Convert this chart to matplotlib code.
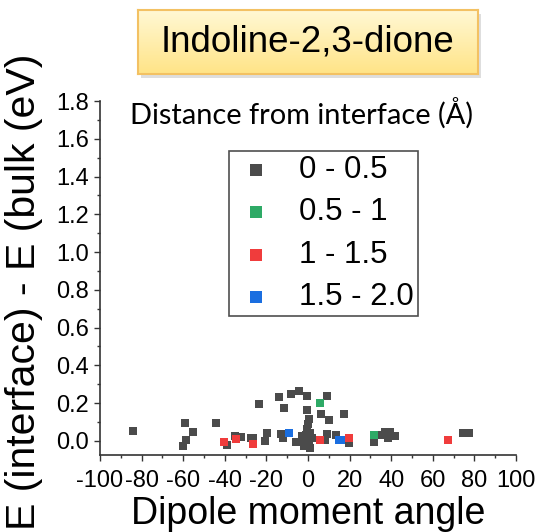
import numpy as np
import matplotlib.pyplot as plt
from matplotlib.patches import Rectangle
from matplotlib.colors import LinearSegmentedColormap

# 데이터
angle_0_05 = [-84, -59.2, -55.1, -58.8, -60.3, -44.2, -39.1, -35.3, -32.4, -27.6, -26.3,
              -23.6, -20.9, -19.9, -14, -13.2, -11.9, -11.6, -8.4, -4.4, -5.9, -0.4, -0.7,
              0.4, -0.1, -0.7, -1.2, 0.9, -2.8, 2.0, -0.7, -4.4, 0.4, -1.7, 1.2,
              9.2, 6.3, 10.2, 17.2, 9.2, 8.4, 13.7, 19.6,
              31.9, 34.8, 37.2, 39.6, 38.3, 42, 74.7, 77.6]
energy_0_05 = [0.051, 0.094, 0.046, 0.005, -0.025, 0.094, -0.021, 0.023, 0.018, 0.016, 0.016,
               0.194, 0.0, 0.041, 0.231, 0.037, 0.014, 0.173, 0.247, 0.265, -0.004, 0.238, 0.164,
               0.115, 0.09, 0.062, 0.032, 0.041, 0.023, 0.014, 0.005, -0.004, -0.016, -0.026, -0.039,
               0.238, 0.141, 0.111, 0.141, 0.035, 0.005, 0.032, -0.009,
               -0.004, 0.032, 0.049, 0.049, 0.014, 0.023, 0.044, 0.040]
angle_05_1 = [5.7, 31.9]
energy_05_1 = [0.2, 0.032]
angle_1_15 = [-40.4, -34.8, -26.3, 5.7, 19.6, 67.1]
energy_1_15 = [-0.007, 0.009, -0.016, 0.005, 0.014, 0.005]
angle_15_2 = [-9.2, 14.8, 16.0]
energy_15_2 = [0.044, 0.002, 0.002]

labels = ['0 - 0.5', '0.5 - 1', '1 - 1.5', '1.5 - 2.0']
colors = ['#4b4b4b', '#2eaa66', '#f03c3c', '#1a6ee0']

plt.rcParams['font.family'] = ['Liberation Sans', 'DejaVu Sans']
plt.rcParams['axes.unicode_minus'] = False

W, H = 539, 532
fig = plt.figure(figsize=(W / 100, H / 100), dpi=100)
ax = fig.add_axes([100 / W, 1 - 455 / H, 416 / W, (455 - 101) / H])

groups = [(angle_0_05, energy_0_05), (angle_05_1, energy_05_1),
          (angle_1_15, energy_1_15), (angle_15_2, energy_15_2)]
for (xs, ys), c, lab in zip(groups, colors, labels):
    ax.scatter(xs, ys, marker='s', s=32, color=c, linewidths=0, label=lab, zorder=3)

ax.set_xlim(-100, 100)
ax.set_ylim(-0.075, 1.8)
ax.set_xticks(np.arange(-100, 101, 20))
ax.set_xticks(np.arange(-90, 100, 20), minor=True)
ax.set_yticks(np.arange(0, 1.81, 0.2))
ax.set_yticks(np.arange(0.1, 1.8, 0.2), minor=True)
ax.set_yticklabels([f'{v:.1f}' for v in np.arange(0, 1.81, 0.2)])
for s in ['top', 'right']:
    ax.spines[s].set_visible(False)
for s in ['left', 'bottom']:
    ax.spines[s].set_color('#333333')
    ax.spines[s].set_linewidth(1.2)
ax.tick_params(axis='both', which='major', labelsize=17, length=4, width=1.0,
               color='#333333', direction='out', pad=4)
ax.tick_params(axis='both', which='minor', length=2, width=1.0, color='#333333', direction='out')
ax.tick_params(axis='x', pad=6.5)

ax.set_xlabel('Dipole moment angle', fontsize=27, labelpad=3)
fig.text(24 / W, 1 - 292 / H, 'E (interface) - E (bulk (eV)', fontsize=29.5,
         rotation=90, ha='center', va='center')

leg = ax.legend(loc='upper left', bbox_to_anchor=(229 / W, 1 - 151 / H),
                bbox_transform=fig.transFigure, fontsize=22.5, markerscale=1.5,
                frameon=True, fancybox=False, borderpad=0.12, handlelength=1.5,
                handletextpad=0.62, labelspacing=0.4, borderaxespad=0)
leg.get_frame().set_edgecolor('#222222')
leg.get_frame().set_linewidth(1.2)

fig.text(301 / W, 1 - 113 / H, 'Distance from interface (Å)', fontsize=20.9,
         family=['Lato', 'DejaVu Sans'], ha='center', va='center')

# 제목 상자 (노란 그라데이션)
shadow = Rectangle((141 / W, 1 - 78 / H), 340 / W, 64 / H, transform=fig.transFigure,
                   facecolor='#c8c8c8', edgecolor='none', alpha=0.6, zorder=1)
fig.patches.append(shadow)
bax = fig.add_axes([138 / W, 1 - 74 / H, 340 / W, 64 / H], zorder=2)
grad = np.linspace(0, 1, 100).reshape(-1, 1)
cmap = LinearSegmentedColormap.from_list('yel', ['#fff8d4', '#ffe487'])
bax.imshow(grad, aspect='auto', cmap=cmap, extent=[0, 1, 1, 0])
bax.set_xticks([])
bax.set_yticks([])
for s in bax.spines.values():
    s.set_color('#f3c163')
    s.set_linewidth(1.5)
bax.text(0.5, 0.5, 'Indoline-2,3-dione', fontsize=26.5, ha='center', va='center',
         transform=bax.transAxes)

fig.savefig('out.png', dpi=100)
